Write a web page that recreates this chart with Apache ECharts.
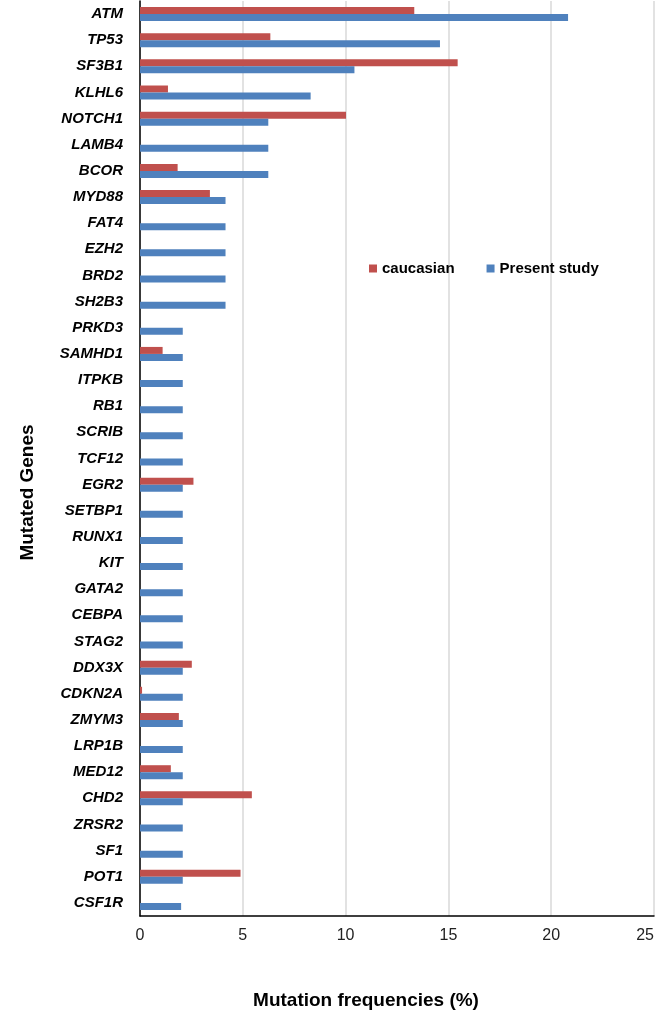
<!DOCTYPE html>
<html>
<head>
<meta charset="utf-8">
<script src="https://cdn.jsdelivr.net/npm/echarts@6/dist/echarts.min.js"></script>
<style>
  html, body { margin: 0; padding: 0; background: #fff; }
  #container { width: 660px; height: 1011px; }
</style>
</head>
<body>
<div id="container"></div>
<script>
var genes = ['ATM','TP53','SF3B1','KLHL6','NOTCH1','LAMB4','BCOR','MYD88','FAT4','EZH2','BRD2','SH2B3',
  'PRKD3','SAMHD1','ITPKB','RB1','SCRIB','TCF12','EGR2','SETBP1','RUNX1','KIT','GATA2','CEBPA','STAG2',
  'DDX3X','CDKN2A','ZMYM3','LRP1B','MED12','CHD2','ZRSR2','SF1','POT1','CSF1R'];
var caucasian = [13.34, 6.34, 15.45, 1.36, 10.02, null, 1.83, 3.4, null, null, null, null,
  null, 1.1, null, null, null, null, 2.6, null, null, null, null, null, null,
  2.52, 0.1, 1.89, null, 1.5, 5.44, null, null, 4.89, null];
var presentStudy = [20.82, 14.59, 10.43, 8.3, 6.24, 6.24, 6.24, 4.16, 4.16, 4.16, 4.16, 4.16,
  2.08, 2.08, 2.08, 2.08, 2.08, 2.08, 2.08, 2.08, 2.08, 2.08, 2.08, 2.08, 2.08,
  2.08, 2.08, 2.08, 2.08, 2.08, 2.08, 2.08, 2.08, 2.08, 2.0];
var xTicks = [0, 5, 10, 15, 20, 25];

var myChart = echarts.init(document.getElementById('container'));
var font = 'Liberation Sans, Arial, sans-serif';
var option = {
  animation: false,
  textStyle: { fontFamily: font },
  legend: {
    data: ['caucasian', 'Present study'],
    left: 369, top: 261, padding: 0,
    icon: 'rect', itemWidth: 8, itemHeight: 8, itemGap: 32,
    textStyle: { fontFamily: font, fontSize: 15, fontWeight: 'bold', color: '#000' }
  },
  grid: { left: 140, right: 6, top: 1, bottom: 95, outerBoundsMode: 'none' },
  xAxis: {
    type: 'value', min: 0, max: 25, interval: 5,
    name: 'Mutation frequencies (%)', nameLocation: 'middle', nameGap: 75,
    nameTextStyle: { fontFamily: font, fontSize: 19, fontWeight: 'bold', color: '#000', padding: [0, 62, 0, 0] },
    axisLine: { show: true, lineStyle: { color: '#000', width: 1.5 } },
    axisTick: { show: false },
    axisLabel: { fontFamily: font, fontSize: 16, color: '#222', margin: 12, alignMaxLabel: 'right',
      formatter: function (v) { return xTicks.indexOf(v) >= 0 ? v : ''; } },
    splitLine: { show: true, lineStyle: { color: '#d9d9d9', width: 1.5 } }
  },
  yAxis: {
    type: 'category', data: genes, inverse: true,
    name: 'Mutated Genes', nameLocation: 'middle', nameGap: 103, nameRotate: 90,
    nameTextStyle: { fontFamily: font, fontSize: 19, fontWeight: 'bold', color: '#000', padding: [0, 68, 0, 0] },
    axisLine: { show: true, lineStyle: { color: '#000', width: 1.5 } },
    axisTick: { show: false },
    axisLabel: { fontFamily: font, fontSize: 15, fontWeight: 'bold', fontStyle: 'italic', color: '#000', margin: 17 }
  },
  series: [
    { name: 'caucasian', type: 'bar', data: caucasian, barWidth: 7, barGap: '0%',
      itemStyle: { color: '#C0504D' } },
    { name: 'Present study', type: 'bar', data: presentStudy, barWidth: 7, barGap: '0%',
      itemStyle: { color: '#4F81BD' } }
  ]
};
myChart.setOption(option);
</script>
</body>
</html>
